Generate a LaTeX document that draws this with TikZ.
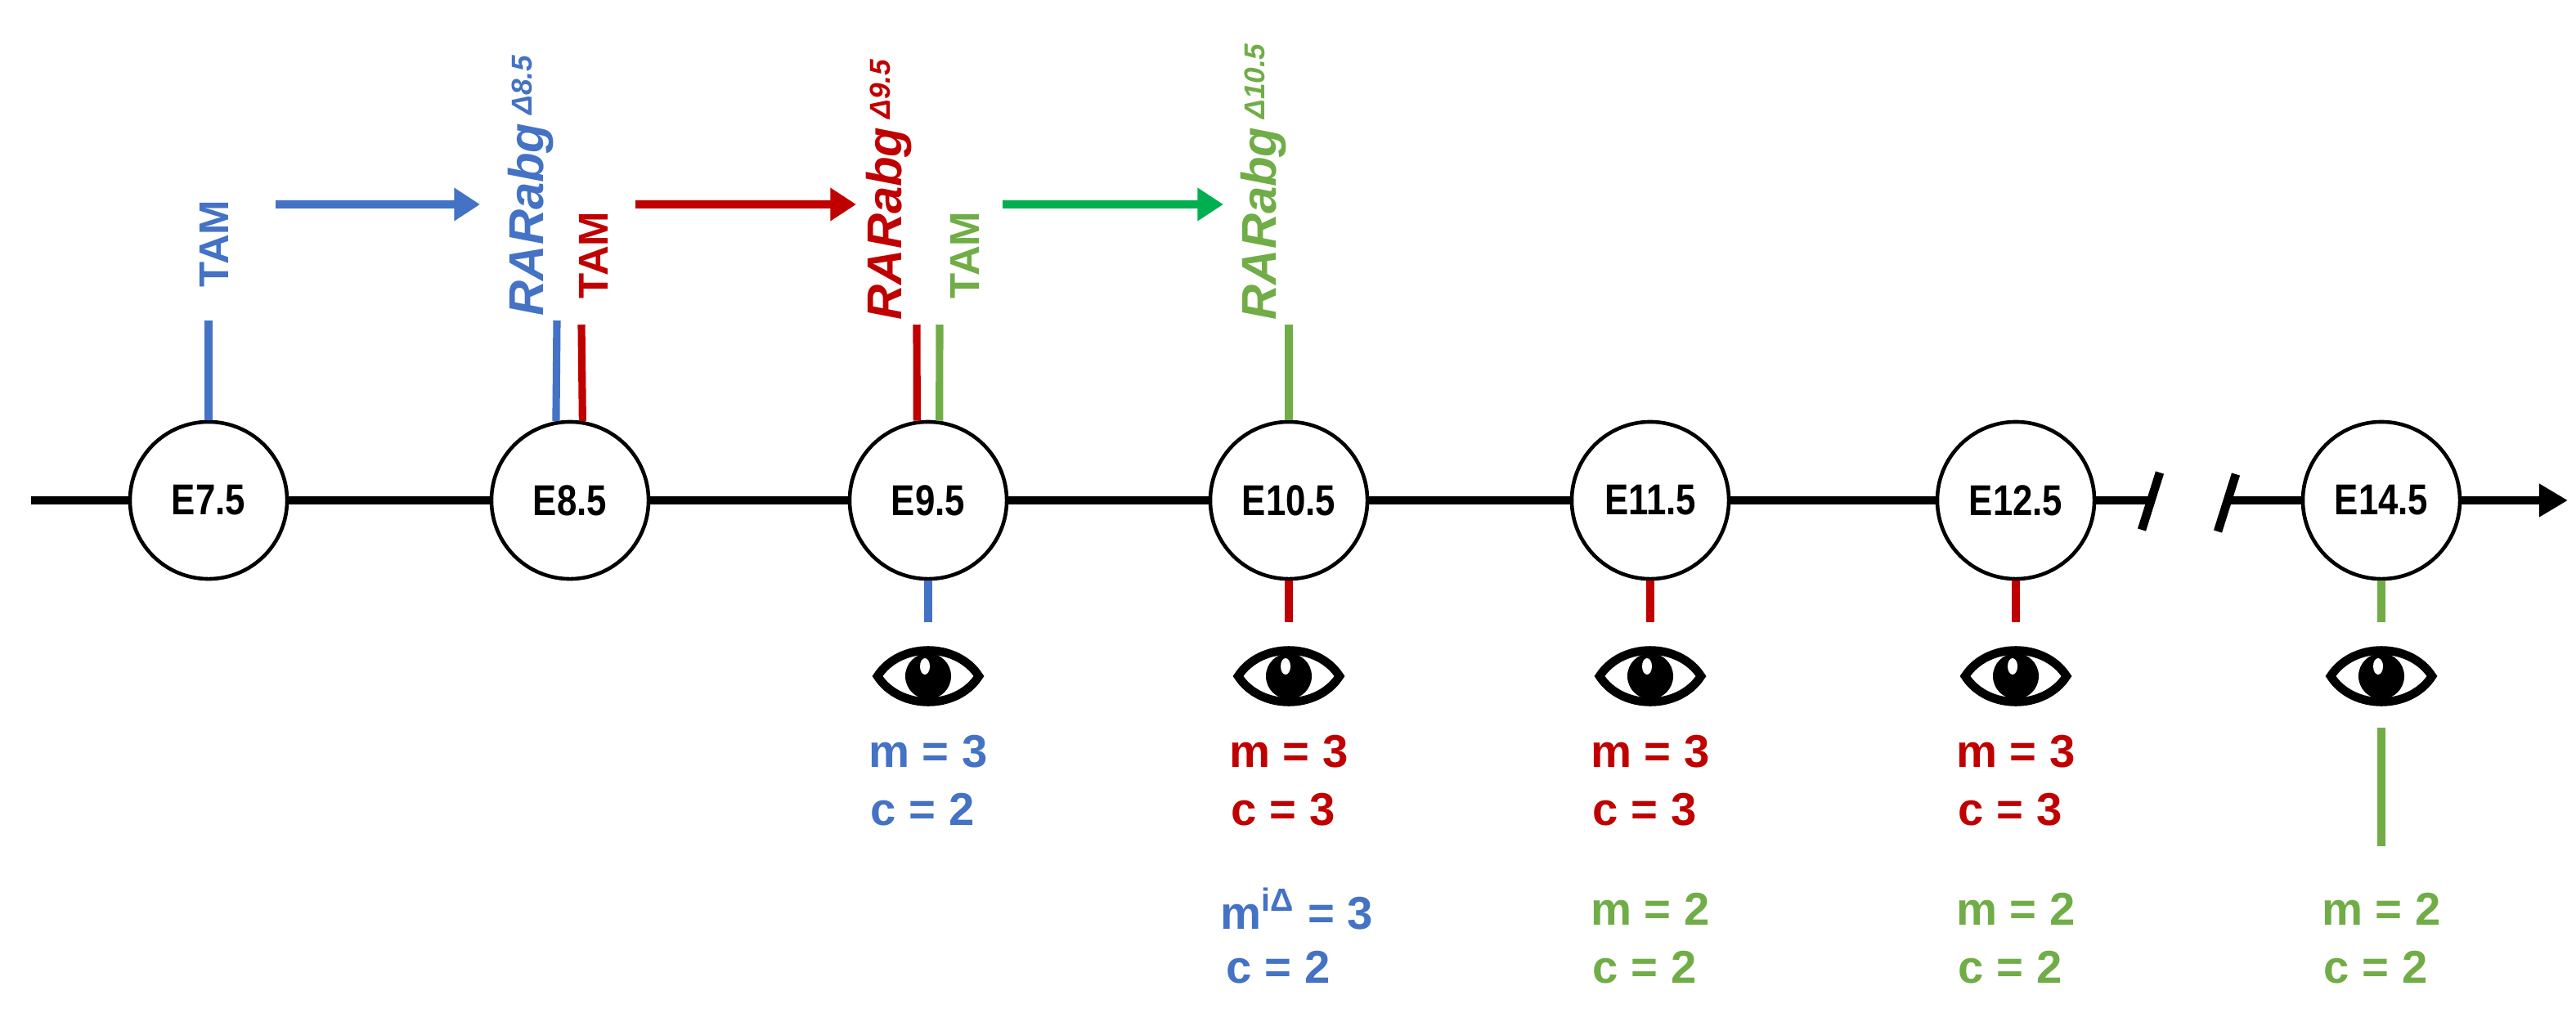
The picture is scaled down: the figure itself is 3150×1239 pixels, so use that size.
\documentclass[tikz,border=0pt]{standalone}
\usepackage{fontspec}
\setmainfont{Liberation Sans}
\usetikzlibrary{arrows.meta}
\definecolor{cb}{HTML}{4472C4}
\definecolor{cr}{HTML}{C00000}
\definecolor{cg}{HTML}{70AD47}
\definecolor{ca}{HTML}{00B050}
\begin{document}
\begin{tikzpicture}[x=0.01cm,y=-0.01cm,
  stage/.style={circle,draw=black,line width=1.3pt,fill=white,minimum size=1.92cm,inner sep=0pt,font=\fontsize{15}{15}\selectfont\bfseries},
  tl/.style={line width=2.6pt},
  main/.style={line width=3pt,black},
  arr/.style={line width=3pt,-{Triangle[length=9pt,width=11pt]}},
  tam/.style={rotate=90,font=\fontsize{14.5}{15}\selectfont\bfseries,inner sep=0pt},
  rar/.style={rotate=90,anchor=west,font=\fontsize{17}{17}\selectfont\itshape\bfseries,inner sep=0pt},
  val/.style={font=\fontsize{16}{19}\selectfont\bfseries,inner sep=0pt},
  eye/.pic={
    \draw[line width=3pt,line join=miter] (-62,0) .. controls (-35,-42) and (35,-42) .. (62,0) .. controls (35,42) and (-35,42) .. (-62,0) -- cycle;
    \fill[black] (0,0) circle[radius=0.28cm];
    \fill[white] (-4,-12) ellipse[x radius=0.06cm,y radius=0.1cm];
  }]
\useasboundingbox (0,0) rectangle (3150,1239);
% stages
\node[stage] (e75) at (255,612) {\scalebox{0.83}[1]{E7.5}};
\node[stage] (e85) at (697,612) {\scalebox{0.83}[1]{E8.5}};
\node[stage] (e95) at (1135,612) {\scalebox{0.83}[1]{E9.5}};
\node[stage] (e105) at (1576,612) {\scalebox{0.83}[1]{E10.5}};
\node[stage] (e115) at (2018,612) {\scalebox{0.83}[1]{E11.5}};
\node[stage] (e125) at (2465,612) {\scalebox{0.83}[1]{E12.5}};
\node[stage] (e145) at (2912,612) {\scalebox{0.83}[1]{E14.5}};
\coordinate (l0) at (38,612);
\coordinate (b1) at (2630,612);
\coordinate (b2) at (2723,612);
\coordinate (lend) at (3140,612);
\draw[main] (l0) -- (e75) -- (e85) -- (e95) -- (e105) -- (e115) -- (e125) -- (b1);
\draw[main] (b2) -- (e145);
\draw[main,-{Triangle[length=10pt,width=11pt]}] (e145) -- (lend);
\coordinate (s1a) at (2641,578); \coordinate (s1b) at (2619,648);
\coordinate (s2a) at (2734,580); \coordinate (s2b) at (2712,650);
\draw[main] (s1a) -- (s1b);
\draw[main] (s2a) -- (s2b);
% top labels
\node[tam,text=cb] (t1) at (262,298) {TAM};
\node[rar,text=cb] (r1) at (649,387) {RARabg\,\raisebox{4pt}{\fontsize{10}{10}\selectfont\bfseries\itshape Δ8.5}};
\node[tam,text=cr] (t2) at (726,312) {TAM};
\node[rar,text=cr] (r2) at (1087,392) {RARabg\,\raisebox{4pt}{\fontsize{10}{10}\selectfont\bfseries\itshape Δ9.5}};
\node[tam,text=cg] (t3) at (1180,312) {TAM};
\node[rar,text=cg] (r3) at (1545,392) {RARabg\,\raisebox{4pt}{\fontsize{10}{10}\selectfont\bfseries\itshape Δ10.5}};
% top lines
\coordinate (u1) at (255,392);
\draw[tl,cb] (e75.north) -- (u1);
\coordinate (u2) at (681,392); \coordinate (u3) at (711,397);
\draw[tl,cb] (e85.100) -- (u2);
\draw[tl,cr] (e85.81) -- (u3);
\coordinate (u4) at (1121,397); \coordinate (u5) at (1149,397);
\draw[tl,cr] (e95.98) -- (u4);
\draw[tl,cg] (e95.82) -- (u5);
\coordinate (u6) at (1576,397);
\draw[tl,cg] (e105.north) -- (u6);
% arrows
\coordinate (a1s) at (337,250); \coordinate (a1e) at (587,250);
\coordinate (a2s) at (777,250); \coordinate (a2e) at (1047,250);
\coordinate (a3s) at (1226,250); \coordinate (a3e) at (1496,250);
\draw[arr,cb] (a1s) -- (a1e);
\draw[arr,cr] (a2s) -- (a2e);
\draw[arr,ca] (a3s) -- (a3e);
% bottom lines
\coordinate (d1) at (1135,761); \draw[tl,cb] (e95.south) -- (d1);
\coordinate (d2) at (1576,761); \draw[tl,cr] (e105.south) -- (d2);
\coordinate (d3) at (2018,761); \draw[tl,cr] (e115.south) -- (d3);
\coordinate (d4) at (2465,761); \draw[tl,cr] (e125.south) -- (d4);
\coordinate (d5) at (2912,761); \draw[tl,cg] (e145.south) -- (d5);
% eyes
\pic at (1135,827) {eye};
\pic at (1576,827) {eye};
\pic at (2018,827) {eye};
\pic at (2465,827) {eye};
\pic at (2912,827) {eye};
% long green line
\coordinate (g1) at (2912,890); \coordinate (g2) at (2912,1035);
\draw[tl,cg] (g1) -- (g2);
% values
\node[val,text=cb] (v1) at (1135,919) {m = 3};
\node[val,text=cb] (v2) at (1128,990) {c = 2};
\node[val,text=cr] (v3) at (1576,919) {m = 3};
\node[val,text=cr] (v4) at (1569,990) {c = 3};
\node[val,text=cb] (v5) at (1586,1112) {m\textsuperscript{iΔ} = 3};
\node[val,text=cb] (v6) at (1563,1183) {c = 2};
\node[val,text=cr] (v7) at (2018,919) {m = 3};
\node[val,text=cr] (v8) at (2011,990) {c = 3};
\node[val,text=cg] (v9) at (2018,1112) {m = 2};
\node[val,text=cg] (v10) at (2011,1183) {c = 2};
\node[val,text=cr] (v11) at (2465,919) {m = 3};
\node[val,text=cr] (v12) at (2458,990) {c = 3};
\node[val,text=cg] (v13) at (2465,1112) {m = 2};
\node[val,text=cg] (v14) at (2458,1183) {c = 2};
\node[val,text=cg] (v15) at (2912,1112) {m = 2};
\node[val,text=cg] (v16) at (2905,1183) {c = 2};
\end{tikzpicture}
\end{document}
